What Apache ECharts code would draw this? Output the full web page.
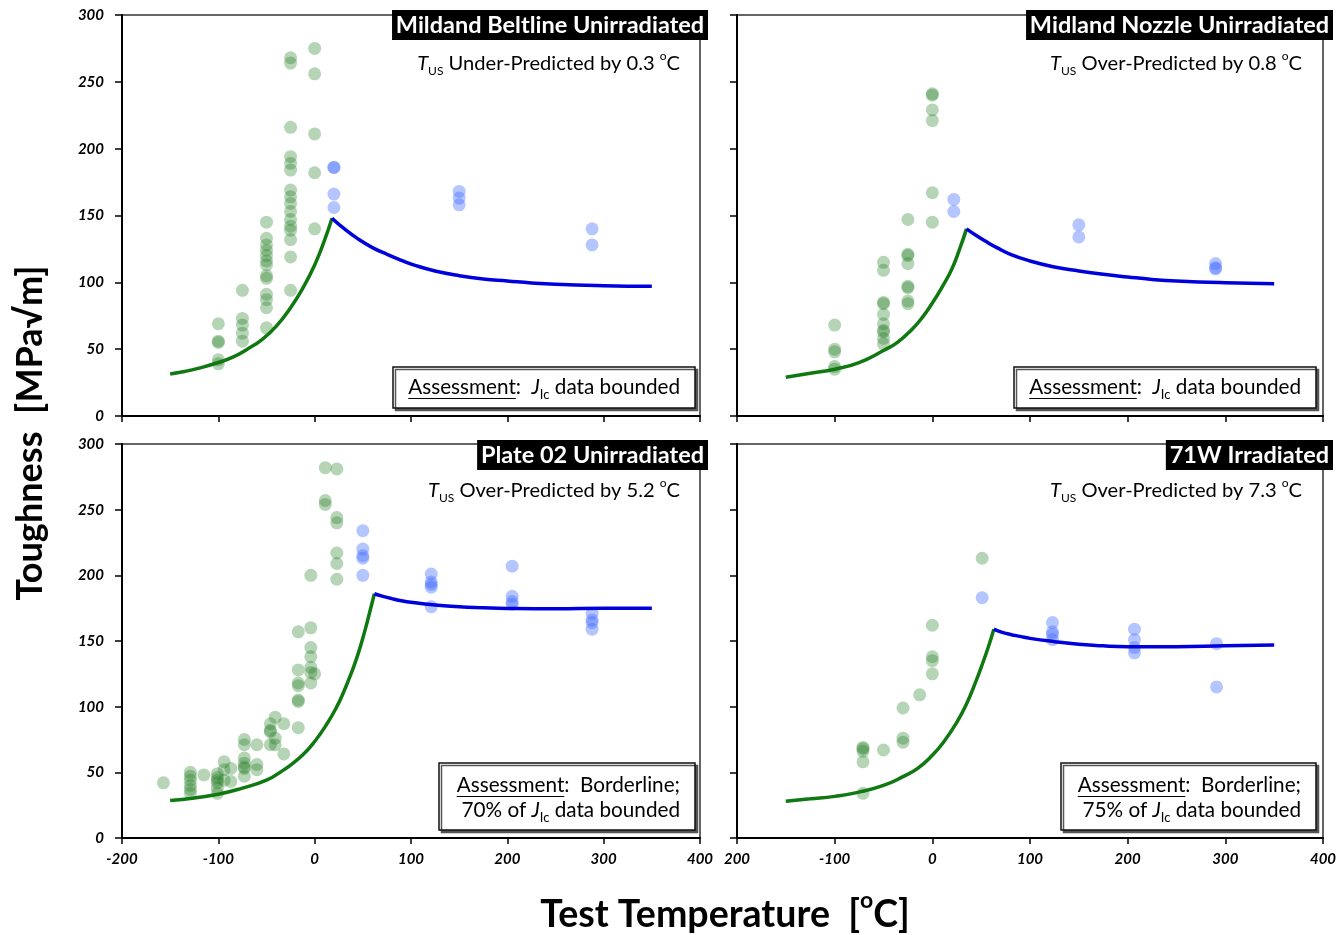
<!DOCTYPE html>
<html><head><meta charset="utf-8">
<script src="https://cdn.jsdelivr.net/npm/echarts@6/dist/echarts.min.js"></script>
<style>html,body{margin:0;padding:0;background:#fff}#c{width:1344px;height:935px}</style>
</head><body><div id="c"></div>
<script>
// ---------------- DATA ----------------
const tempTicks = [-200, -100, 0, 100, 200, 300, 400];
const toughTicks = [0, 50, 100, 150, 200, 250, 300];
const panelTitles = ['Mildand Beltline Unirradiated', 'Midland Nozzle Unirradiated', 'Plate 02 Unirradiated', '71W Irradiated'];
const tusNotes = ['Under-Predicted by 0.3 ', 'Over-Predicted by 0.8 ', 'Over-Predicted by 5.2 ', 'Over-Predicted by 7.3 '];
const assessmentLead = ['', '', 'Borderline;', 'Borderline;'];
const assessmentTail = ['data bounded', 'data bounded', '70% of', '75% of'];

// Mildand Beltline Unirradiated
const beltlineLowerPts = [
  [-100,69],[-100,56],[-100,55],[-100,42],[-100,39],
  [-75,94],[-75,73],[-75,68],[-75,62],[-75,56],
  [-50,145],[-50,133],[-50,128],[-50,124],[-50,120],[-50,116],[-50,113],[-50,105],[-50,103],[-50,91],[-50,87],[-50,81],[-50,66],
  [-25,268],[-25,264],[-25,216],[-25,194],[-25,189],[-25,184],[-25,169],[-25,164],[-25,159],[-25,153],[-25,147],[-25,142],[-25,139],[-25,132],[-25,119],[-25,94],
  [0,275],[0,256],[0,211],[0,182],[0,140]
];
const beltlineUpperPts = [[20,186],[20,186],[20,166],[20,156],[150,168],[150,163],[150,158],[288,140],[288,128]];
const beltlineLowerCurve = [[-150,31.5],[-135,33.3],[-120,35.8],[-100,40],[-85,44],[-70,50],[-55,57],[-40,67],[-25,81],[-12,96],[0,113],[10,131],[18,148]];
const beltlineUpperCurve = [[18,148],[30,140.5],[45,132.5],[60,126],[75,121],[90,116.5],[105,112.5],[125,108.5],[150,105],[175,102.5],[200,101],[225,99.5],[250,98.5],[300,97.5],[350,97]];

// Midland Nozzle Unirradiated
const nozzleLowerPts = [
  [-100,68],[-100,50],[-100,48],[-100,37],[-100,35],
  [-50,115],[-50,109],[-50,85],[-50,84],[-50,76],[-50,69],[-50,64],[-50,63],[-50,58],[-50,54],
  [-25,147],[-25,121],[-25,120],[-25,114],[-25,97],[-25,96],[-25,86],[-25,84],
  [0,241],[0,240],[0,229],[0,221],[0,167],[0,145]
];
const nozzleUpperPts = [[22,162],[22,153],[150,143],[150,134],[290,114],[290,111],[290,110]];
const nozzleLowerCurve = [[-150,29],[-125,32],[-100,35],[-75,40],[-50,49],[-35,55.5],[-20,65.5],[-10,74],[0,84.5],[10,96.5],[20,110],[28,125],[35,140]];
const nozzleUpperCurve = [[35,140],[45,135],[55,130.5],[66,126],[80,121],[100,116],[125,111.5],[150,108.5],[175,106],[200,104],[225,102.2],[250,101],[300,99.7],[350,99]];

// Plate 02 Unirradiated
const plateLowerPts = [
  [-157,42],
  [-129,50],[-129,47],[-129,44],[-129,40],[-129,37],[-129,34],
  [-115,48],
  [-101,49],[-101,46],[-101,44],[-101,42],[-101,38],[-101,34],
  [-94,58],[-94,52],[-94,44],
  [-87,53],[-87,43],
  [-73,75],[-73,71],[-73,61],[-73,57],[-73,54],[-73,53],[-73,47],
  [-60,71],[-60,56],[-60,52],
  [-46,87],[-46,82],[-46,81],[-46,71],
  [-41,92],[-41,76],[-41,71],
  [-32,87],[-32,64],
  [-17,157],[-17,128],[-17,118],[-17,116],[-17,105],[-17,104],[-17,84],
  [-4,200],[-4,160],[-4,145],[-4,138],[-4,130],[-4,126],[-4,118],
  [0,125],
  [11,282],[11,257],[11,254],
  [23,281],[23,244],[23,240],[23,217],[23,209],[23,197]
];
const plateUpperPts = [
  [50,234],[50,220],[50,215],[50,213],[50,200],
  [121,201],[121,195],[121,193],[121,191],[121,176],
  [205,207],[205,184],[205,180],[205,178],
  [288,171],[288,166],[288,164],[288,159]
];
const plateLowerCurve = [[-150,28.5],[-125,30.5],[-100,33.3],[-75,38],[-50,44],[-35,50.5],[-25,55.5],[-12,63.5],[0,73.5],[12,86],[23,100],[30,111],[38,125.5],[45,140],[52,157.5],[57,171.5],[62,186]];
const plateUpperCurve = [[62,186],[70,184.2],[80,182.3],[90,180.7],[100,179.5],[125,177.4],[150,176],[175,175.3],[200,174.8],[250,174.5],[300,175],[350,175]];

// 71W Irradiated
const w71LowerPts = [
  [-71,69],[-71,68],[-71,66],[-71,58],[-71,34],
  [-50,67],
  [-30,99],[-30,76],[-30,73],
  [-13,109],
  [0,162],[0,138],[0,135],[0,125],
  [51,213]
];
const w71UpperPts = [[51,183],[123,164],[123,157],[123,155],[123,151],[207,159],[207,151],[207,145],[207,141],[291,148],[291,115]];
const w71LowerCurve = [[-150,28],[-125,29.8],[-100,31.7],[-75,34.9],[-50,40],[-30,46.7],[-15,53],[0,63],[12,73.5],[25,88],[35,102],[45,120],[52,134],[58,147],[63,159]];
const w71UpperCurve = [[63,159],[70,157],[80,155],[90,153.5],[100,152],[125,149.5],[150,147.5],[175,146.3],[200,145.7],[250,145.6],[300,146.4],[350,147]];

// ---------------- LAYOUT ----------------
const FAM = 'Lato';
const lowerPts = [beltlineLowerPts, nozzleLowerPts, plateLowerPts, w71LowerPts];
const upperPts = [beltlineUpperPts, nozzleUpperPts, plateUpperPts, w71UpperPts];
const lowerCurves = [beltlineLowerCurve, nozzleLowerCurve, plateLowerCurve, w71LowerCurve];
const upperCurves = [beltlineUpperCurve, nozzleUpperCurve, plateUpperCurve, w71UpperCurve];

const grids = [
  {left: 122, top: 15, width: 578, height: 401},
  {left: 737, top: 15, width: 586, height: 401},
  {left: 122, top: 444, width: 578, height: 394},
  {left: 737, top: 444, width: 586, height: 394}
];

const cv = document.createElement('canvas').getContext('2d');
function tw(text, size, italic, bold) {
  cv.font = (italic ? 'italic ' : '') + (bold ? 'bold ' : '') + size + 'px ' + FAM;
  return cv.measureText(text).width;
}
function richW(parts, fs) {
  let w = 0;
  parts.forEach(p => { w += tw(p[0], fs * (p[1] || 1), p[2], p[3]); });
  return w;
}
function fit(parts, target) { return 100 * target / richW(parts, 100); }

const subScale = 0.62;
function richStyles(fs, bold) {
  const lh = Math.round(fs * 1.35);
  const fw = bold ? 'bold' : 'normal';
  return {
    n: {fontSize: fs, fontFamily: FAM, fontWeight: fw, lineHeight: lh, color: '#000'},
    i: {fontSize: fs, fontFamily: FAM, fontWeight: fw, fontStyle: 'italic', lineHeight: lh, color: '#000'},
    u: {fontSize: fs, fontFamily: FAM, fontWeight: fw, lineHeight: lh, color: '#000'},
    sub: {fontSize: Math.round(fs * subScale), fontFamily: FAM, fontWeight: fw, lineHeight: Math.round(fs * subScale), verticalAlign: 'bottom', color: '#000'},
    sup: {fontSize: Math.round(fs * subScale), fontFamily: FAM, fontWeight: fw, lineHeight: Math.round(fs * subScale), verticalAlign: 'top', color: '#000'}
  };
}

// font sizes fitted to reference text widths
const titleFs = fit([[panelTitles[0], 1, false, true]], 308);
const noteFs = fit([['T', 1, true], ['US', subScale], [' ' + tusNotes[0]], ['o', subScale], ['C']], 264);
const assessFs = fit([['Assessment:  '], ['J', 1, true], ['Ic', subScale], [' data bounded']], 272);
const yTitleFs = fit([['Toughness  [MPa\u221Am]', 1, false, true]], 335);
const xTitleFs = fit([['Test Temperature  [', 1, false, true], ['o', subScale, false, true], ['C]', 1, false, true]], 370);

const graphic = [];
const rightEdges = [708, 1333, 708, 1333];
const titleTops = [10, 10, 440, 440];
const noteRight = [680, 1302, 680, 1302];
const noteY = [64, 64, 491, 491];
const boxes = [
  {x: 393, y: 367, w: 302, h: 41},
  {x: 1014, y: 367, w: 302, h: 41},
  {x: 439, y: 763, w: 256, h: 67},
  {x: 1061, y: 763, w: 255, h: 67}
];

for (let i = 0; i < 4; i++) {
  const tW = tw(panelTitles[i], titleFs, false, true);
  const bw = tW + 8;
  graphic.push({type: 'rect', z: 100, shape: {x: rightEdges[i] - bw, y: titleTops[i], width: bw, height: 30},
    style: {fill: '#000'}});
  graphic.push({type: 'text', z: 101, x: rightEdges[i] - bw / 2, y: titleTops[i] + 15,
    style: {text: panelTitles[i], font: 'bold ' + titleFs.toFixed(1) + 'px ' + FAM, fill: '#fff',
      textAlign: 'center', textVerticalAlign: 'middle'}});
  graphic.push({type: 'text', z: 101, x: noteRight[i], y: noteY[i],
    style: {text: '{i|T}{sub|US}{n| ' + tusNotes[i] + '}{sup|o}{n|C}', rich: richStyles(noteFs),
      textAlign: 'right', textVerticalAlign: 'middle'}});
  const b = boxes[i];
  graphic.push({type: 'rect', z: 100, shape: {x: b.x, y: b.y, width: b.w, height: b.h},
    style: {fill: '#fff', stroke: '#111', lineWidth: 1.5, shadowColor: '#555', shadowOffsetX: 2.5, shadowOffsetY: 2.5, shadowBlur: 0}});
  const rs = richStyles(assessFs);
  const uW = tw('Assessment', assessFs);
  let line1x, line1y, line1;
  if (i < 2) {
    line1 = '{u|Assessment}{n|:  }{i|J}{sub|Ic}{n| ' + assessmentTail[i] + '}';
    const w = richW([['Assessment:  '], ['J', 1, true], ['Ic', subScale], [' ' + assessmentTail[i]]], assessFs);
    line1x = b.x + b.w - 15 - w;
    line1y = b.y + b.h / 2;
    graphic.push({type: 'text', z: 101, x: line1x, y: line1y,
      style: {text: line1, rich: rs, textAlign: 'left', textVerticalAlign: 'middle'}});
  } else {
    line1 = '{u|Assessment}{n|:  ' + assessmentLead[i] + '}';
    const w = richW([['Assessment:  ' + assessmentLead[i]]], assessFs);
    line1x = b.x + b.w - 15 - w;
    line1y = b.y + 22;
    graphic.push({type: 'text', z: 101, x: line1x, y: line1y,
      style: {text: line1, rich: rs, textAlign: 'left', textVerticalAlign: 'middle'}});
    graphic.push({type: 'text', z: 101, x: b.x + b.w - 15, y: b.y + 47,
      style: {text: '{n|' + assessmentTail[i] + ' }{i|J}{sub|Ic}{n| data bounded}', rich: rs,
        textAlign: 'right', textVerticalAlign: 'middle'}});
  }
  const uy = Math.round(line1y + assessFs * 0.52) + 0.5;
  graphic.push({type: 'line', z: 101, shape: {x1: line1x, y1: uy, x2: line1x + uW, y2: uy},
    style: {stroke: '#000', lineWidth: 1.2}});
}

graphic.push({type: 'text', z: 101, x: 30, y: 433, rotation: Math.PI / 2,
  style: {text: 'Toughness  [MPa\u221Am]', font: 'bold ' + yTitleFs.toFixed(1) + 'px ' + FAM, fill: '#000',
    textAlign: 'center', textVerticalAlign: 'middle'}});
graphic.push({type: 'text', z: 101, x: 725, y: 915,
  style: {text: '{n|Test Temperature  [}{sup|o}{n|C]}', rich: richStyles(xTitleFs, true),
    textAlign: 'center', textVerticalAlign: 'middle'}});

// ---------------- OPTION ----------------
const tickLabelStyle = {fontFamily: FAM, fontWeight: 'bold', fontStyle: 'italic', fontSize: 15, color: '#000'};
const xAxes = [], yAxes = [], series = [];
for (let i = 0; i < 4; i++) {
  xAxes.push({
    type: 'value', gridIndex: i, min: tempTicks[0], max: tempTicks[tempTicks.length - 1],
    interval: tempTicks[1] - tempTicks[0],
    axisLine: {show: true, onZero: false, lineStyle: {color: '#000', width: 2}},
    axisTick: {show: true, inside: false, length: 6, lineStyle: {color: '#000', width: 1.5}},
    splitLine: {show: false},
    axisLabel: {show: i >= 2, margin: 14, ...tickLabelStyle,
      formatter: v => (i === 3 && v === tempTicks[0]) ? String(-v) : String(v)}
  });
  yAxes.push({
    type: 'value', gridIndex: i, min: toughTicks[0], max: toughTicks[toughTicks.length - 1],
    interval: toughTicks[1] - toughTicks[0],
    axisLine: {show: true, onZero: false, lineStyle: {color: '#000', width: 2}},
    axisTick: {show: true, inside: false, length: 7, lineStyle: {color: '#000', width: 1.5}},
    splitLine: {show: false},
    axisLabel: {show: i % 2 === 0, margin: 18, ...tickLabelStyle}
  });
  series.push({type: 'scatter', xAxisIndex: i, yAxisIndex: i, data: lowerPts[i], symbol: 'circle', symbolSize: 13,
    itemStyle: {color: 'rgba(40,128,40,0.42)'}, z: 2, silent: true});
  series.push({type: 'scatter', xAxisIndex: i, yAxisIndex: i, data: upperPts[i], symbol: 'circle', symbolSize: 13,
    itemStyle: {color: 'rgba(70,110,255,0.5)'}, z: 2, silent: true});
  series.push({type: 'line', xAxisIndex: i, yAxisIndex: i, data: lowerCurves[i], smooth: 0.5, showSymbol: false,
    lineStyle: {color: '#107810', width: 3.5}, z: 3, silent: true});
  series.push({type: 'line', xAxisIndex: i, yAxisIndex: i, data: upperCurves[i], smooth: 0.5, showSymbol: false,
    lineStyle: {color: '#0000dd', width: 3.5}, z: 3, silent: true});
}

const option = {
  animation: false,
  backgroundColor: '#fff',
  grid: grids.map(g => ({...g, show: true, borderColor: '#333', borderWidth: 1.5, backgroundColor: 'transparent'})),
  xAxis: xAxes,
  yAxis: yAxes,
  series: series,
  graphic: graphic
};
const chart = echarts.init(document.getElementById('c'), null, {renderer: 'canvas'});
chart.setOption(option);
</script>
</body></html>
